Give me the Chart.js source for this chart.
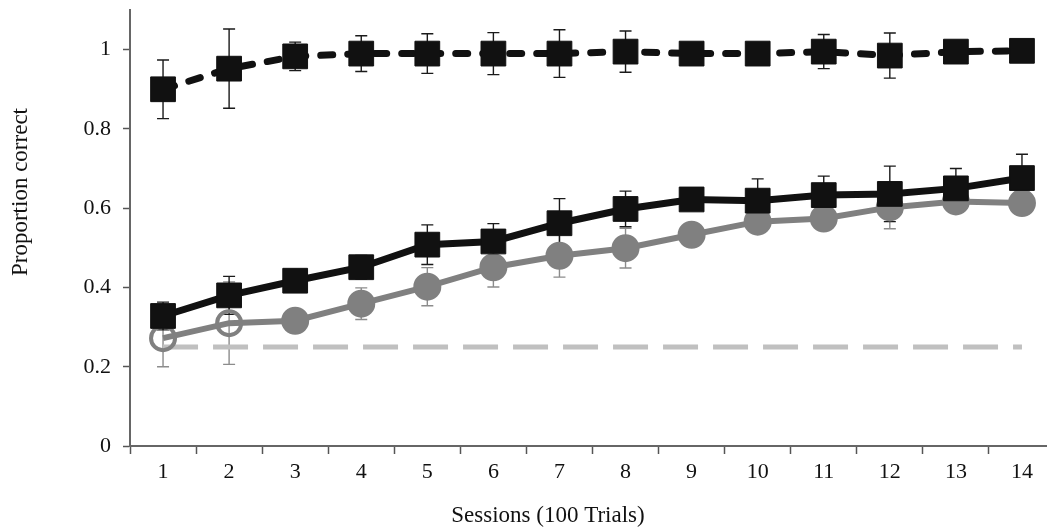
<!DOCTYPE html>
<html>
<head>
<meta charset="utf-8">
<script src="https://cdn.jsdelivr.net/npm/chart.js@4/dist/chart.umd.min.js"></script>
<style>
  html, body { margin: 0; padding: 0; background: #fff; overflow: hidden; }
  #wrap { width: 1060px; height: 527px; position: relative; }
</style>
</head>
<body>
<div id="wrap"><canvas id="c"></canvas></div>
<script>
// ---- Data ----
const categories = ['1','2','3','4','5','6','7','8','9','10','11','12','13','14'];
const yTicks = [0, 0.2, 0.4, 0.6, 0.8, 1];
const xTitle = 'Sessions (100 Trials)';
const yTitle = 'Proportion correct';

const topMean = [0.90, 0.952, 0.983, 0.99, 0.99, 0.99, 0.99, 0.995, 0.99, 0.99, 0.995, 0.985, 0.995, 0.997];
const topErr  = [0.074, 0.10, 0.036, 0.045, 0.05, 0.053, 0.06, 0.052, 0.02, 0.015, 0.043, 0.057, 0.01, 0.01];

const midMean = [0.328, 0.38, 0.417, 0.451, 0.508, 0.516, 0.562, 0.598, 0.622, 0.619, 0.633, 0.636, 0.65, 0.676];
const midErr  = [0.035, 0.048, 0.02, 0.03, 0.05, 0.045, 0.062, 0.045, 0.02, 0.055, 0.048, 0.07, 0.05, 0.06];

const grayMean = [0.272, 0.31, 0.316, 0.359, 0.402, 0.451, 0.48, 0.499, 0.533, 0.566, 0.574, 0.602, 0.617, 0.613];
const grayErr  = [0.072, 0.104, 0.02, 0.04, 0.048, 0.05, 0.054, 0.05, 0.02, 0.02, 0.02, 0.054, 0.02, 0.02];
const grayOpen = [true, true, false, false, false, false, false, false, false, false, false, false, false, false];

const chance = [0.25, 0.25, 0.25, 0.25, 0.25, 0.25, 0.25, 0.25, 0.25, 0.25, 0.25, 0.25, 0.25, 0.25];

// ---- Styles ----
const BLACK = '#111111';
const GRAY = '#808080';
const FONT = "'Liberation Serif', 'Times New Roman', serif";

const errorBars = {
  id: 'errorBars',
  beforeDatasetsDraw(chart) {
    const ctx = chart.ctx;
    const x = chart.scales.x, y = chart.scales.y;
    const sets = [
      { mean: grayMean, err: grayErr, color: '#8c8c8c' },
      { mean: midMean, err: midErr, color: '#1a1a1a' },
      { mean: topMean, err: topErr, color: '#1a1a1a' }
    ];
    ctx.save();
    ctx.lineWidth = 1.4;
    sets.forEach(s => {
      ctx.strokeStyle = s.color;
      s.mean.forEach((m, i) => {
        const px = x.getPixelForValue(i);
        const yt = y.getPixelForValue(m + s.err[i]);
        const yb = y.getPixelForValue(m - s.err[i]);
        ctx.beginPath();
        ctx.moveTo(px, yt); ctx.lineTo(px, yb);
        ctx.moveTo(px - 6, yt); ctx.lineTo(px + 6, yt);
        ctx.moveTo(px - 6, yb); ctx.lineTo(px + 6, yb);
        ctx.stroke();
      });
    });
    ctx.restore();
  }
};

// axis titles placed like the reference (not centred on the plot area)
const axisTitles = {
  id: 'axisTitles',
  afterDraw(chart) {
    const ctx = chart.ctx;
    const a = chart.chartArea;
    ctx.save();
    ctx.fillStyle = '#111';
    ctx.font = "23px " + FONT;
    ctx.textAlign = 'center';
    ctx.textBaseline = 'alphabetic';
    ctx.fillText(xTitle, a.left + 418, chart.height - 5);
    ctx.translate(27, a.top + 182);
    ctx.rotate(-Math.PI / 2);
    ctx.fillText(yTitle, 0, 0);
    ctx.restore();
  }
};

new Chart(document.getElementById('c'), {
  type: 'line',
  data: {
    labels: categories,
    datasets: [
      {
        data: topMean,
        borderColor: BLACK,
        borderWidth: 7,
        borderDash: [12, 15],
        borderDashOffset: 0,
        borderCapStyle: 'round',
        pointStyle: 'rect',
        pointRadius: 17.5,
        pointBackgroundColor: BLACK,
        pointBorderColor: BLACK,
        pointBorderWidth: 1,
        tension: 0
      },
      {
        data: midMean,
        borderColor: BLACK,
        borderWidth: 7,
        pointStyle: 'rect',
        pointRadius: 17.5,
        pointBackgroundColor: BLACK,
        pointBorderColor: BLACK,
        pointBorderWidth: 1,
        tension: 0
      },
      {
        data: grayMean,
        borderColor: GRAY,
        borderWidth: 6,
        pointStyle: 'circle',
        pointRadius: grayOpen.map(o => o ? 12 : 12.5),
        pointBackgroundColor: grayOpen.map(o => o ? 'rgba(255,255,255,0)' : GRAY),
        pointBorderColor: GRAY,
        pointBorderWidth: grayOpen.map(o => o ? 4 : 3),
        tension: 0
      },
      {
        data: chance,
        borderColor: '#c0c0c0',
        borderWidth: 5,
        borderDash: [35, 15],
        pointRadius: 0,
        tension: 0
      }
    ]
  },
  options: {
    responsive: true,
    maintainAspectRatio: false,
    animation: false,
    events: [],
    layout: { autoPadding: false, padding: { top: 10, right: 5, bottom: 0, left: 0 } },
    plugins: { legend: { display: false }, tooltip: { enabled: false } },
    scales: {
      x: {
        type: 'category',
        offset: true,
        afterFit(s) { s.height = 81; s.paddingLeft = 0; s.paddingRight = 0; },
        grid: { offset: true, drawOnChartArea: false, drawTicks: true, tickLength: 8, tickColor: '#555', tickWidth: 1.5 },
        border: { display: true, color: '#666', width: 2 },
        ticks: { color: '#111', font: { family: FONT, size: 22 }, padding: 5, maxRotation: 0, autoSkip: false },
        title: { display: false }
      },
      y: {
        min: 0,
        max: 1.1,
        afterFit(s) { s.width = 130; s.paddingTop = 0; s.paddingBottom = 0; },
        afterBuildTicks(s) { s.ticks = yTicks.map(v => ({ value: v })); },
        grid: { drawOnChartArea: false, drawTicks: true, tickLength: 7, tickColor: '#555', tickWidth: 1.5 },
        border: { display: true, color: '#666', width: 2 },
        ticks: { color: '#111', font: { family: FONT, size: 22 }, padding: 12, callback: v => String(Math.round(v * 10) / 10) },
        title: { display: false }
      }
    }
  },
  plugins: [errorBars, axisTitles]
});
</script>
</body>
</html>
